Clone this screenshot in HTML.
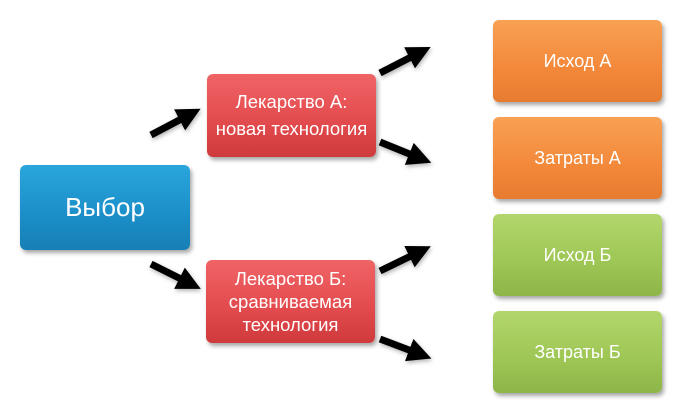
<!DOCTYPE html>
<html><head><meta charset="utf-8"><style>
body{margin:0;width:680px;height:410px;background:#fff;position:relative;overflow:hidden;font-family:"Liberation Sans","DejaVu Sans",sans-serif}
.b{position:absolute;border-radius:6px;color:#fff;display:flex;align-items:center;justify-content:center;text-align:center;box-shadow:2px 3px 4px rgba(0,0,0,.35);line-height:1.45}
.blue{background:linear-gradient(#2aa6dd,#1b8ec8 60%,#177fb5);font-size:26px}
.red{background:linear-gradient(#f06466,#e24a4d 60%,#cf3a3d);font-size:18.5px}
.or{background:linear-gradient(#f8a154,#f3883a 60%,#e77c30);font-size:18px}
.gr{background:linear-gradient(#b3d66c,#9dc654 60%,#8db548);font-size:18px}
svg{position:absolute;left:0;top:0}
</style></head><body>
<div class="b blue" style="left:20px;top:165px;width:170px;height:85px">Выбор</div>
<div class="b red" style="left:207px;top:74px;width:169px;height:83px">Лекарство А:<br>новая технология</div>
<div class="b red" style="left:206px;top:260px;width:169px;height:83px;line-height:1.25">Лекарство Б:<br>сравниваемая<br>технология</div>
<div class="b or" style="left:493px;top:20px;width:169px;height:82px">Исход А</div>
<div class="b or" style="left:493px;top:117px;width:169px;height:82px">Затраты А</div>
<div class="b gr" style="left:493px;top:214px;width:169px;height:82px">Исход Б</div>
<div class="b gr" style="left:493px;top:311px;width:169px;height:82px">Затраты Б</div>
<svg width="680" height="410">
<defs><marker id="h" markerWidth="3.4" markerHeight="3.4" refX="1.2" refY="1.7" orient="auto"><path d="M0,0L3.4,1.7L0,3.4Z" fill="#000"/></marker>
<filter id="s"><feDropShadow dx="1" dy="2" stdDeviation="2" flood-opacity=".3"/></filter></defs>
<g stroke="#000" stroke-width="7" marker-end="url(#h)" filter="url(#s)">
<line x1="151" y1="135" x2="187" y2="116"/>
<line x1="151" y1="264" x2="187" y2="282"/>
<line x1="380" y1="73" x2="417" y2="54"/>
<line x1="380" y1="142" x2="417" y2="157"/>
<line x1="380" y1="271" x2="417" y2="253"/>
<line x1="380" y1="339" x2="417" y2="353"/>
</g></svg>
</body></html>
